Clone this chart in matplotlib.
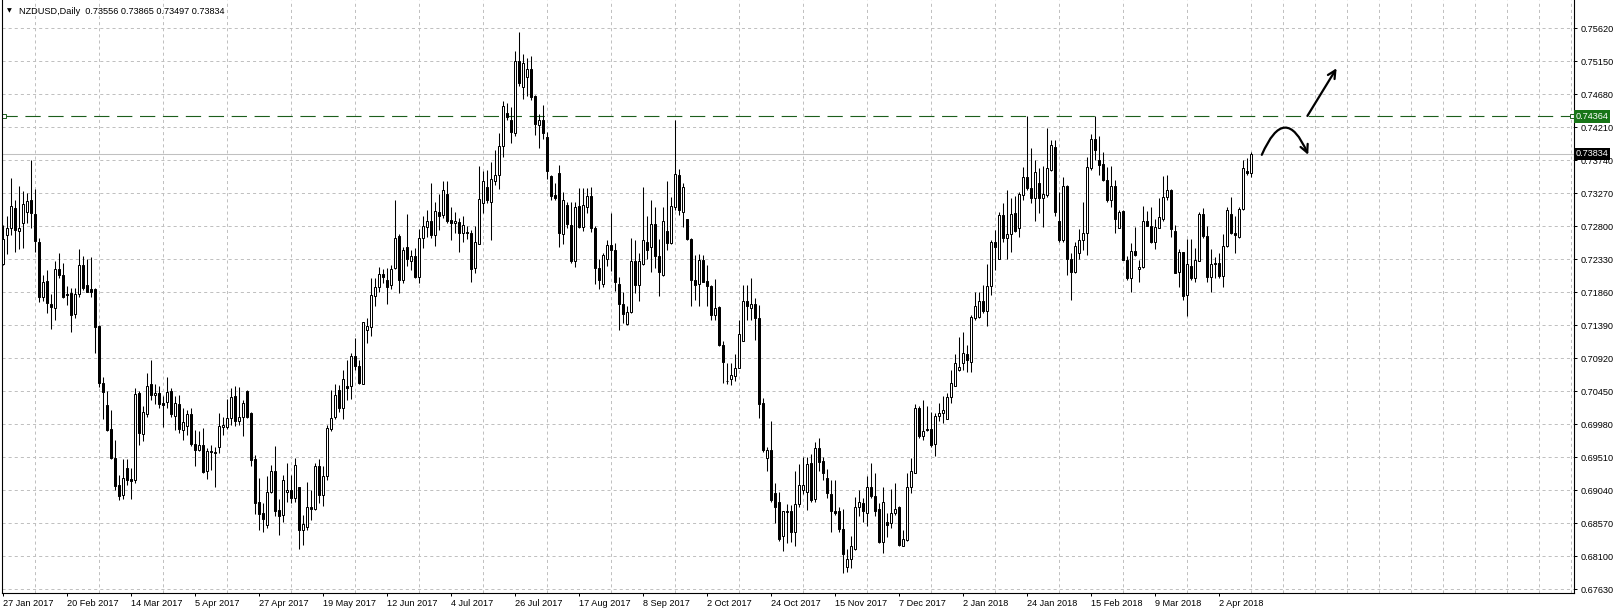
import numpy as np
import matplotlib
matplotlib.use("Agg")
import matplotlib.pyplot as plt

# -----------------------------
# Data: NZDUSD daily candles
# -----------------------------
opens = [
    0.7227, 0.7268, 0.7278, 0.7306, 0.7273, 0.7285, 0.7301, 0.7317, 0.7298, 0.7258,
    0.7179, 0.7202, 0.7170, 0.7164, 0.7219, 0.7211, 0.7184, 0.7185, 0.7155, 0.7184,
    0.7225, 0.7197, 0.7190, 0.7190, 0.7138, 0.7057, 0.7025, 0.6991, 0.6950, 0.6912,
    0.6897, 0.6936, 0.6920, 0.6918, 0.7042, 0.6984, 0.7013, 0.7055, 0.7040, 0.7043,
    0.7028, 0.7030, 0.7046, 0.7010, 0.7027, 0.6990, 0.6996, 0.7013, 0.6970, 0.6962,
    0.6969, 0.6932, 0.6960, 0.6959, 0.6965, 0.6994, 0.6994, 0.7007, 0.7039, 0.7002,
    0.7008, 0.7046, 0.7014, 0.6948, 0.6887, 0.6871, 0.6855, 0.6902, 0.6932, 0.6876,
    0.6869, 0.6902, 0.6905, 0.6893, 0.6908, 0.6847, 0.6852, 0.6880, 0.6878, 0.6939,
    0.6897, 0.6924, 0.6991, 0.7008, 0.7047, 0.7021, 0.7053, 0.7052, 0.7095, 0.7081,
    0.7056, 0.7133, 0.7137, 0.7181, 0.7193, 0.7212, 0.7204, 0.7196, 0.7220, 0.7266,
    0.7203, 0.7250, 0.7230, 0.7238, 0.7208, 0.7263, 0.7279, 0.7287, 0.7268, 0.7301,
    0.7296, 0.7326, 0.7289, 0.7284, 0.7286, 0.7270, 0.7272, 0.7270, 0.7220, 0.7255,
    0.7313, 0.7336, 0.7314, 0.7345, 0.7353, 0.7394, 0.7442, 0.7432, 0.7413, 0.7516,
    0.7479, 0.7492, 0.7504, 0.7466, 0.7424, 0.7432, 0.7407, 0.7352, 0.7325, 0.7356,
    0.7269, 0.7310, 0.7282, 0.7231, 0.7309, 0.7279, 0.7307, 0.7323, 0.7277, 0.7220,
    0.7198, 0.7233, 0.7253, 0.7246, 0.7198, 0.7170, 0.7141, 0.7158, 0.7230, 0.7196,
    0.7227, 0.7258, 0.7250, 0.7283, 0.7237, 0.7211, 0.7274, 0.7256, 0.7308, 0.7353,
    0.7301, 0.7290, 0.7262, 0.7203, 0.7198, 0.7232, 0.7202, 0.7195, 0.7154, 0.7165,
    0.7111, 0.7060, 0.7062, 0.7067, 0.7078, 0.7116, 0.7173, 0.7163, 0.7169, 0.7149,
    0.7028, 0.6950, 0.6962, 0.6900, 0.6888, 0.6839, 0.6873, 0.6875, 0.6845, 0.6885,
    0.6904, 0.6901, 0.6943, 0.6891, 0.6964, 0.6946, 0.6921, 0.6899, 0.6874, 0.6875,
    0.6849, 0.6795, 0.6806, 0.6820, 0.6880, 0.6886, 0.6872, 0.6909, 0.6896, 0.6877,
    0.6831, 0.6859, 0.6857, 0.6871, 0.6880, 0.6825, 0.6833, 0.6908, 0.6929, 0.7021,
    0.6981, 0.6991, 0.6991, 0.6970, 0.7010, 0.7014, 0.7005, 0.7037, 0.7053, 0.7075,
    0.7085, 0.7098, 0.7087, 0.7149, 0.7151, 0.7173, 0.7159, 0.7195, 0.7258, 0.7233,
    0.7296, 0.7264, 0.7269, 0.7299, 0.7277, 0.7325, 0.7350, 0.7334, 0.7320, 0.7341,
    0.7320, 0.7325, 0.7360, 0.7393, 0.7287, 0.7261, 0.7337, 0.7234, 0.7215, 0.7242,
    0.7260, 0.7270, 0.7363, 0.7404, 0.7375, 0.7369, 0.7346, 0.7318, 0.7337, 0.7277,
    0.7302, 0.7232, 0.7206, 0.7245, 0.7219, 0.7222, 0.7287, 0.7280, 0.7257, 0.7277,
    0.7291, 0.7322, 0.7331, 0.7274, 0.7215, 0.7243, 0.7182, 0.7224, 0.7206, 0.7231,
    0.7298, 0.7266, 0.7208, 0.7228, 0.7228, 0.7209, 0.7252, 0.7298, 0.7270, 0.7265,
    0.7304, 0.7359, 0.73556,
]
highs = [
    0.7282, 0.7294, 0.7349, 0.7318, 0.7337, 0.7330, 0.7327, 0.7375, 0.7333, 0.7263,
    0.7211, 0.7218, 0.7183, 0.7230, 0.7242, 0.7228, 0.7195, 0.7192, 0.7192, 0.7247,
    0.7237, 0.7233, 0.7236, 0.7192, 0.7140, 0.7065, 0.7045, 0.7018, 0.6976, 0.6926,
    0.6948, 0.6948, 0.6936, 0.7050, 0.7045, 0.7024, 0.7071, 0.7090, 0.7055, 0.7053,
    0.7038, 0.7066, 0.7050, 0.7038, 0.7040, 0.7021, 0.7019, 0.7021, 0.6990, 0.6988,
    0.6993, 0.6964, 0.6969, 0.6966, 0.7014, 0.7009, 0.7034, 0.7049, 0.7052, 0.7051,
    0.7033, 0.7047, 0.7015, 0.6954, 0.6921, 0.6886, 0.6924, 0.6940, 0.6967, 0.6891,
    0.6926, 0.6943, 0.6926, 0.6950, 0.6909, 0.6869, 0.6916, 0.6905, 0.6943, 0.6948,
    0.6938, 0.6997, 0.7047, 0.7056, 0.7054, 0.7075, 0.7089, 0.7100, 0.7121, 0.7089,
    0.7144, 0.7149, 0.7206, 0.7206, 0.7222, 0.7219, 0.7220, 0.7225, 0.7318, 0.7269,
    0.7250, 0.7298, 0.7246, 0.7249, 0.7276, 0.7295, 0.7303, 0.7342, 0.7314, 0.7326,
    0.7345, 0.7344, 0.7308, 0.7300, 0.7292, 0.7295, 0.7281, 0.7275, 0.7280, 0.7366,
    0.7359, 0.7360, 0.7371, 0.7388, 0.7413, 0.7459, 0.7455, 0.7450, 0.7529, 0.7557,
    0.7526, 0.7519, 0.7523, 0.7467, 0.7440, 0.7453, 0.7415, 0.7353, 0.7341, 0.7367,
    0.7329, 0.7315, 0.7315, 0.7314, 0.7334, 0.7334, 0.7334, 0.7336, 0.7280, 0.7234,
    0.7242, 0.7261, 0.7299, 0.7256, 0.7208, 0.7187, 0.7166, 0.7263, 0.7261, 0.7242,
    0.7336, 0.7294, 0.7318, 0.7308, 0.7262, 0.7308, 0.7344, 0.7322, 0.7432, 0.7361,
    0.7341, 0.7291, 0.7263, 0.7239, 0.7241, 0.7239, 0.7225, 0.7196, 0.7205, 0.7166,
    0.7117, 0.7085, 0.7086, 0.7098, 0.7147, 0.7196, 0.7196, 0.7206, 0.7178, 0.7168,
    0.7035, 0.6965, 0.7002, 0.6914, 0.6902, 0.6875, 0.6885, 0.6883, 0.6931, 0.6942,
    0.6951, 0.6951, 0.6956, 0.6973, 0.6978, 0.6951, 0.6935, 0.6918, 0.6919, 0.6880,
    0.6878, 0.6821, 0.6839, 0.6894, 0.6905, 0.6893, 0.6924, 0.6943, 0.6928, 0.6886,
    0.6909, 0.6871, 0.6906, 0.6915, 0.6881, 0.6848, 0.6929, 0.6950, 0.7027, 0.7024,
    0.7032, 0.7024, 0.7016, 0.7014, 0.7028, 0.7038, 0.7042, 0.7075, 0.7098, 0.7123,
    0.7129, 0.7111, 0.7154, 0.7186, 0.7186, 0.7196, 0.7226, 0.7261, 0.7275, 0.7300,
    0.7313, 0.7331, 0.7321, 0.7323, 0.7329, 0.7365, 0.7437, 0.7391, 0.7375, 0.7363,
    0.7366, 0.7420, 0.7403, 0.7403, 0.7329, 0.7350, 0.7339, 0.7242, 0.7258, 0.7276,
    0.7315, 0.7378, 0.7412, 0.7437, 0.7408, 0.7386, 0.7365, 0.7366, 0.7346, 0.7303,
    0.7303, 0.7237, 0.7256, 0.7279, 0.7232, 0.7309, 0.7302, 0.7307, 0.7291, 0.7320,
    0.7352, 0.7353, 0.7333, 0.7282, 0.7247, 0.7244, 0.7262, 0.7262, 0.7249, 0.7300,
    0.7306, 0.7280, 0.7247, 0.7236, 0.7242, 0.7269, 0.7308, 0.7322, 0.7295, 0.7308,
    0.7375, 0.7377, 0.73865,
]
lows = [
    0.7225, 0.7240, 0.7268, 0.7244, 0.7247, 0.7249, 0.7285, 0.7278, 0.7244, 0.7172,
    0.7173, 0.7157, 0.7134, 0.7147, 0.7206, 0.7178, 0.7168, 0.7129, 0.7149, 0.7180,
    0.7189, 0.7186, 0.7180, 0.7100, 0.7051, 0.7005, 0.6989, 0.6948, 0.6905, 0.6890,
    0.6892, 0.6912, 0.6892, 0.6915, 0.6968, 0.6974, 0.7009, 0.7033, 0.7027, 0.7021,
    0.6994, 0.7021, 0.7008, 0.6990, 0.6986, 0.6976, 0.6983, 0.6967, 0.6938, 0.6960,
    0.6929, 0.6920, 0.6933, 0.6909, 0.6957, 0.6983, 0.6992, 0.6997, 0.6995, 0.6997,
    0.6981, 0.7007, 0.6939, 0.6870, 0.6848, 0.6845, 0.6850, 0.6900, 0.6867, 0.6840,
    0.6859, 0.6887, 0.6886, 0.6887, 0.6821, 0.6826, 0.6848, 0.6862, 0.6876, 0.6886,
    0.6881, 0.6919, 0.6988, 0.7005, 0.7016, 0.7005, 0.7033, 0.7034, 0.7075, 0.7056,
    0.7055, 0.7114, 0.7124, 0.7167, 0.7186, 0.7199, 0.7169, 0.7190, 0.7219, 0.7185,
    0.7199, 0.7224, 0.7218, 0.7206, 0.7199, 0.7249, 0.7265, 0.7263, 0.7252, 0.7275,
    0.7292, 0.7284, 0.7261, 0.7270, 0.7244, 0.7258, 0.7262, 0.7201, 0.7214, 0.7255,
    0.7299, 0.7313, 0.7261, 0.7339, 0.7333, 0.7379, 0.7432, 0.7399, 0.7409, 0.7480,
    0.7461, 0.7466, 0.7460, 0.7410, 0.7391, 0.7405, 0.7347, 0.7318, 0.7318, 0.7250,
    0.7255, 0.7277, 0.7228, 0.7222, 0.7277, 0.7274, 0.7299, 0.7272, 0.7198, 0.7190,
    0.7194, 0.7223, 0.7217, 0.7188, 0.7133, 0.7142, 0.7140, 0.7156, 0.7185, 0.7173,
    0.7225, 0.7234, 0.7215, 0.7220, 0.7181, 0.7209, 0.7246, 0.7255, 0.7303, 0.7296,
    0.7279, 0.7261, 0.7166, 0.7175, 0.7166, 0.7200, 0.7166, 0.7147, 0.7146, 0.7110,
    0.7057, 0.7056, 0.7054, 0.7060, 0.7078, 0.7116, 0.7147, 0.7147, 0.7118, 0.7007,
    0.6958, 0.6931, 0.6888, 0.6858, 0.6832, 0.6818, 0.6829, 0.6830, 0.6824, 0.6880,
    0.6899, 0.6876, 0.6888, 0.6888, 0.6931, 0.6918, 0.6893, 0.6844, 0.6869, 0.6844,
    0.6786, 0.6788, 0.6793, 0.6819, 0.6867, 0.6859, 0.6853, 0.6893, 0.6867, 0.6829,
    0.6815, 0.6838, 0.6850, 0.6869, 0.6824, 0.6824, 0.6832, 0.6900, 0.6929, 0.6978,
    0.6976, 0.6989, 0.6965, 0.6953, 0.7002, 0.7000, 0.7005, 0.7028, 0.7052, 0.7074,
    0.7076, 0.7072, 0.7072, 0.7147, 0.7150, 0.7156, 0.7138, 0.7182, 0.7218, 0.7233,
    0.7257, 0.7233, 0.7244, 0.7272, 0.7265, 0.7318, 0.7332, 0.7313, 0.7287, 0.7299,
    0.7279, 0.7322, 0.7359, 0.7294, 0.7258, 0.7258, 0.7211, 0.7175, 0.7214, 0.7233,
    0.7246, 0.7239, 0.7360, 0.7375, 0.7353, 0.7344, 0.7315, 0.7307, 0.7270, 0.7277,
    0.7232, 0.7204, 0.7187, 0.7238, 0.7201, 0.7220, 0.7280, 0.7256, 0.7247, 0.7277,
    0.7288, 0.7318, 0.7265, 0.7213, 0.7193, 0.7175, 0.7152, 0.7204, 0.7201, 0.7230,
    0.7264, 0.7201, 0.7187, 0.7206, 0.7207, 0.7193, 0.7251, 0.7269, 0.7242, 0.7263,
    0.7303, 0.7353, 0.73497,
]
closes = [
    0.7262, 0.7278, 0.7309, 0.7275, 0.7278, 0.7312, 0.7316, 0.7299, 0.7259, 0.7180,
    0.7200, 0.7171, 0.7165, 0.7219, 0.7210, 0.7180, 0.7182, 0.7154, 0.7184, 0.7225,
    0.7192, 0.7187, 0.7187, 0.7137, 0.7057, 0.7044, 0.6990, 0.6950, 0.6910, 0.6896,
    0.6922, 0.6919, 0.6917, 0.7041, 0.6985, 0.7016, 0.7052, 0.7040, 0.7043, 0.7027,
    0.7026, 0.7044, 0.7012, 0.7028, 0.6991, 0.7001, 0.7013, 0.6970, 0.6962, 0.6969,
    0.6930, 0.6960, 0.6958, 0.6957, 0.6996, 0.6997, 0.7007, 0.7037, 0.7002, 0.7008,
    0.7028, 0.7008, 0.6947, 0.6886, 0.6870, 0.6863, 0.6902, 0.6932, 0.6874, 0.6868,
    0.6918, 0.6905, 0.6893, 0.6940, 0.6847, 0.6856, 0.6880, 0.6878, 0.6938, 0.6897,
    0.6924, 0.6993, 0.7007, 0.7040, 0.7021, 0.7062, 0.7050, 0.7095, 0.7081, 0.7057,
    0.7143, 0.7138, 0.7182, 0.7194, 0.7212, 0.7208, 0.7194, 0.7219, 0.7264, 0.7204,
    0.7246, 0.7233, 0.7238, 0.7208, 0.7263, 0.7281, 0.7287, 0.7268, 0.7302, 0.7295,
    0.7331, 0.7288, 0.7284, 0.7288, 0.7271, 0.7282, 0.7270, 0.7219, 0.7258, 0.7319,
    0.7345, 0.7318, 0.7347, 0.7353, 0.7394, 0.7452, 0.7435, 0.7415, 0.7516, 0.7484,
    0.7513, 0.7504, 0.7464, 0.7426, 0.7432, 0.7413, 0.7359, 0.7323, 0.7320, 0.7270,
    0.7318, 0.7283, 0.7231, 0.7307, 0.7279, 0.7310, 0.7323, 0.7277, 0.7220, 0.7203,
    0.7239, 0.7253, 0.7246, 0.7201, 0.7170, 0.7155, 0.7158, 0.7231, 0.7196, 0.7230,
    0.7261, 0.7246, 0.7283, 0.7237, 0.7215, 0.7288, 0.7256, 0.7309, 0.7355, 0.7303,
    0.7336, 0.7262, 0.7203, 0.7196, 0.7232, 0.7201, 0.7195, 0.7154, 0.7163, 0.7111,
    0.7087, 0.7059, 0.7068, 0.7078, 0.7127, 0.7173, 0.7166, 0.7169, 0.7149, 0.7027,
    0.6961, 0.6962, 0.6890, 0.6880, 0.6834, 0.6874, 0.6875, 0.6844, 0.6885, 0.6912,
    0.6912, 0.6942, 0.6890, 0.6964, 0.6945, 0.6928, 0.6900, 0.6874, 0.6871, 0.6849,
    0.6813, 0.6806, 0.6825, 0.6880, 0.6888, 0.6874, 0.6909, 0.6896, 0.6875, 0.6831,
    0.6887, 0.6855, 0.6871, 0.6878, 0.6826, 0.6834, 0.6908, 0.6931, 0.7021, 0.6981,
    0.6988, 0.6990, 0.6969, 0.7010, 0.7014, 0.7018, 0.7037, 0.7057, 0.7085, 0.7079,
    0.7099, 0.7089, 0.7151, 0.7166, 0.7173, 0.7159, 0.7195, 0.7258, 0.7250, 0.7296,
    0.7264, 0.7269, 0.7298, 0.7274, 0.7326, 0.7350, 0.7334, 0.7320, 0.7358, 0.7320,
    0.7326, 0.7363, 0.7396, 0.7301, 0.7261, 0.7337, 0.7233, 0.7215, 0.7252, 0.7260,
    0.7271, 0.7365, 0.7404, 0.7389, 0.7367, 0.7346, 0.7318, 0.7337, 0.7290, 0.7301,
    0.7232, 0.7206, 0.7245, 0.7239, 0.7222, 0.7287, 0.7280, 0.7257, 0.7279, 0.7293,
    0.7322, 0.7331, 0.7276, 0.7214, 0.7243, 0.7181, 0.7227, 0.7206, 0.7232, 0.7298,
    0.7266, 0.7208, 0.7227, 0.7226, 0.7209, 0.7252, 0.7303, 0.7270, 0.7268, 0.7304,
    0.7363, 0.7356, 0.73834,
]

date_labels = [
    "27 Jan 2017", "20 Feb 2017", "14 Mar 2017", "5 Apr 2017", "27 Apr 2017",
    "19 May 2017", "12 Jun 2017", "4 Jul 2017", "26 Jul 2017", "17 Aug 2017",
    "8 Sep 2017", "2 Oct 2017", "24 Oct 2017", "15 Nov 2017", "7 Dec 2017",
    "2 Jan 2018", "24 Jan 2018", "15 Feb 2018", "9 Mar 2018", "2 Apr 2018",
]
price_ticks = [
    0.67630, 0.68100, 0.68570, 0.69040, 0.69510, 0.69980, 0.70450, 0.70920, 0.71390,
    0.71860, 0.72330, 0.72800, 0.73270, 0.73740, 0.74210, 0.74680, 0.75150, 0.75620,
]
resistance = 0.74364
last_price = 0.73834
title = "NZDUSD,Daily  0.73556 0.73865 0.73497 0.73834"

# -----------------------------
# Figure
# -----------------------------
plt.rcParams['font.family'] = ['Liberation Sans', 'DejaVu Sans']
plt.rcParams['lines.scale_dashes'] = False
FS = 6.6

W, H = 1617, 613
fig = plt.figure(figsize=(W / 100, H / 100), dpi=100)
ax = fig.add_axes([2 / W, 20 / H, 1572 / W, 593 / H])

o = np.array(opens)
h = np.array(highs)
l = np.array(lows)
c = np.array(closes)
bars = np.arange(len(o))

# grid
ax.set_xticks(np.arange(0, 393, 8), minor=True)
ax.grid(True, which='minor', axis='x', color='#c0c0c0', lw=0.72, dashes=(2.2, 2.2))
ax.grid(True, which='major', axis='y', color='#c0c0c0', lw=0.72, dashes=(2.2, 2.2))
ax.set_axisbelow(True)

# lines
ax.axhline(last_price, color='#c0c0c0', lw=0.75, zorder=1)
ax.axhline(resistance, color='#1c5e1c', lw=0.8, dashes=(11, 5.5), zorder=1)
ax.plot([0.3, 392.2], [resistance, resistance], 's', ms=3.2, mfc='white',
        mec='#1c5e1c', mew=0.7, zorder=2, clip_on=False)

# candles
ax.vlines(bars, l, h, color='black', lw=0.75, zorder=3)
up = c >= o
ax.bar(bars, np.abs(c - o), bottom=np.minimum(o, c), width=0.5,
       color=np.where(up, 'white', 'black'), edgecolor='black', linewidth=0.72, zorder=4)

# arrows
ax.annotate('', xy=(333.4, 0.75051), xytext=(326.1, 0.74372),
            arrowprops=dict(arrowstyle='->', lw=1.6, color='black', mutation_scale=14,
                            shrinkA=0, shrinkB=0), zorder=5)
ax.annotate('', xy=(326.3, 0.73818), xytext=(314.7, 0.73818),
            arrowprops=dict(arrowstyle='->', lw=1.6, color='black', mutation_scale=14,
                            shrinkA=0, shrinkB=0, connectionstyle='arc3,rad=-1.15'), zorder=5)

# axes
ax.set_xlim(-0.25, 392.75)
ax.set_ylim(0.675774, 0.76023)
ax.set_xticks(np.arange(len(date_labels)) * 16)
ax.set_xticklabels(date_labels, fontsize=FS, ha='left')
ax.tick_params(axis='x', which='major', direction='out', length=2.5, width=0.72, pad=1.5)
ax.tick_params(axis='x', which='minor', length=0)

ax.yaxis.tick_right()
ax.set_yticks(price_ticks)
ax.set_yticklabels([f"{p:.5f}" for p in price_ticks], fontsize=FS)
ax.tick_params(axis='y', direction='out', length=2.5, width=0.72, pad=2)

for s in ['left', 'right', 'bottom']:
    ax.spines[s].set_linewidth(0.8)
    ax.spines[s].set_color('black')
ax.spines['top'].set_visible(False)

# price boxes on the right axis
ytr = ax.get_yaxis_transform()
ax.text(1.0012, resistance, "0.74364", transform=ytr, fontsize=FS, color='white',
        ha='left', va='center', clip_on=False, zorder=6,
        bbox=dict(boxstyle='square,pad=0.18', fc='#177517', ec='none'))
ax.text(1.0012, last_price, "0.73834", transform=ytr, fontsize=FS, color='white',
        ha='left', va='center', clip_on=False, zorder=6,
        bbox=dict(boxstyle='square,pad=0.18', fc='black', ec='none'))

# header
fig.text(7 / W, 1 - 11 / H, "\u25bc", fontsize=4.5, va='center', ha='left',
         family='DejaVu Sans')
fig.text(19 / W, 1 - 11 / H, title, fontsize=FS, va='center', ha='left')

fig.savefig('out.png', dpi=100)
